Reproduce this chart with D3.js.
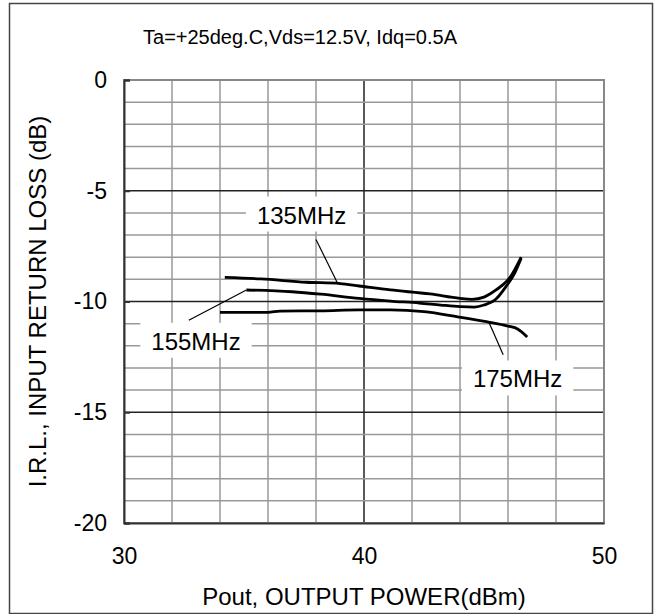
<!DOCTYPE html>
<html>
<head>
<meta charset="utf-8">
<script src="https://cdn.jsdelivr.net/npm/d3@7"></script>
<style>
  body { margin:0; background:#fff; }
  text { font-family: "Liberation Sans", Arial, sans-serif; fill:#000; }
</style>
</head>
<body>
<div id="chart"></div>
<script>
// data
var pout135 = [34.2, 35.7, 37.6, 39.0, 39.8, 41.1, 42.75, 44.0, 44.5, 45.0, 45.5, 46.1, 46.55];
var irl135  = [-8.91, -8.98, -9.13, -9.19, -9.30, -9.48, -9.66, -9.86, -9.90, -9.80, -9.48, -8.89, -8.0];

var pout155 = [35.1, 37.0, 38.2, 39.8, 41.1, 42.3, 43.2, 44.0, 44.6, 45.0, 45.5, 45.9, 46.3, 46.55];
var irl155  = [-9.48, -9.56, -9.67, -9.86, -9.98, -10.07, -10.16, -10.23, -10.25, -10.16, -9.89, -9.35, -8.67, -8.05];

var pout175 = [34.0, 36.0, 36.5, 38.2, 39.8, 41.1, 42.5, 43.9, 45.1, 46.0, 46.4, 46.8];
var irl175  = [-10.49, -10.49, -10.43, -10.42, -10.38, -10.38, -10.46, -10.69, -10.91, -11.11, -11.24, -11.6];

var xTicks = [30, 40, 50];
var yTicks = [0, -5, -10, -15, -20];
var title = "Ta=+25deg.C,Vds=12.5V, Idq=0.5A";

// curve labels: text centre, leader start, leader end on curve (all in data units)
var labelNames = ["135MHz", "155MHz", "175MHz"];
var labelPos   = [[37.4, -6.1], [33.0, -11.8], [46.4, -13.5]];
var leaderFrom = [[38.0, -7.2], [32.7, -10.85], [45.8, -12.4]];
var leaderTo   = [[38.9, -9.18], [35.1, -9.48], [45.2, -10.93]];

var W = 660, H = 614;
var svg = d3.select("#chart").append("svg").attr("width", W).attr("height", H);

svg.append("rect")
  .attr("x", 9.5).attr("y", 3.5).attr("width", 643).attr("height", 610)
  .style("fill", "none").style("stroke", "#444").style("stroke-width", "1.5px");

var x = d3.scaleLinear().domain([30, 50]).range([124, 604]);
var y = d3.scaleLinear().domain([0, -20]).range([80, 523]);

// grid
var g = svg.append("g");
g.selectAll("line.vminor").data(d3.range(32, 50, 2)).enter().append("line")
  .attr("x1", function(d){ return x(d); }).attr("x2", function(d){ return x(d); })
  .attr("y1", y(0)).attr("y2", y(-20))
  .style("stroke", function(d){ return d == 40 ? "#222" : "#999"; })
  .style("stroke-width", "1.5px");
g.selectAll("line.hminor").data(d3.range(-1, -20, -1)).enter().append("line")
  .attr("y1", function(d){ return y(d); }).attr("y2", function(d){ return y(d); })
  .attr("x1", x(30)).attr("x2", x(50))
  .style("stroke", function(d){ return d % 5 == 0 ? "#222" : "#999"; })
  .style("stroke-width", "1.5px");

// plot frame
svg.append("rect")
  .attr("x", x(30)).attr("y", y(0)).attr("width", x(50) - x(30)).attr("height", y(-20) - y(0))
  .style("fill", "none").style("stroke", "#888").style("stroke-width", "2px");

// axes
var yAxis = svg.append("g").attr("transform", "translate(" + x(30) + ",0)")
  .call(d3.axisLeft(y).tickValues(yTicks).tickSize(-6).tickPadding(17).tickFormat(function(d){ return String(d); }));
var xAxis = svg.append("g").attr("transform", "translate(0," + y(-20) + ")")
  .call(d3.axisBottom(x).tickValues(xTicks).tickSize(0).tickPadding(25).tickFormat(function(d){ return String(d); }));
[yAxis, xAxis].forEach(function(a){
  a.select(".domain").style("stroke", "#333").style("stroke-width", "2px");
  a.selectAll(".tick line").style("stroke", "#333").style("stroke-width", "2px");
  a.selectAll("text").style("font-size", "23px").style("font-family", "Liberation Sans, Arial, sans-serif").style("fill", "#000");
});

// curves
var line = d3.line().x(function(d){ return x(d[0]); }).y(function(d){ return y(d[1]); }).curve(d3.curveMonotoneX);
var series = [d3.zip(pout135, irl135), d3.zip(pout155, irl155), d3.zip(pout175, irl175)];

// leaders
for (var i = 0; i < labelNames.length; i++) {
  svg.append("line")
    .attr("x1", x(leaderFrom[i][0])).attr("y1", y(leaderFrom[i][1]))
    .attr("x2", x(leaderTo[i][0])).attr("y2", y(leaderTo[i][1]))
    .style("stroke", "#000").style("stroke-width", "1.2px");
}

svg.selectAll("path.curve").data(series).enter().append("path")
  .attr("class", "curve")
  .attr("d", line)
  .style("fill", "none").style("stroke", "#000").style("stroke-width", "2.8px");

// label boxes
for (var i = 0; i < labelNames.length; i++) {
  var t = svg.append("text")
    .attr("x", x(labelPos[i][0])).attr("y", y(labelPos[i][1]))
    .attr("text-anchor", "middle").attr("dy", "0.35em")
    .style("font-size", "24px")
    .text(labelNames[i]);
  var bb = t.node().getBBox();
  svg.insert("rect", function(){ return t.node(); })
    .attr("x", bb.x - 11).attr("y", bb.y - 5).attr("width", bb.width + 22).attr("height", bb.height + 8)
    .style("fill", "#fff");
}

svg.append("text").attr("x", 300).attr("y", 44).attr("text-anchor", "middle")
  .style("font-size", "20px").text(title);

svg.append("text").attr("x", x(40)).attr("y", 605).attr("text-anchor", "middle")
  .style("font-size", "24px").text("Pout, OUTPUT POWER(dBm)");

svg.append("text").attr("transform", "translate(46," + y(-10) + ") rotate(-90)")
  .attr("text-anchor", "middle")
  .style("font-size", "24px").text("I.R.L., INPUT RETURN LOSS (dB)");
</script>
</body>
</html>
